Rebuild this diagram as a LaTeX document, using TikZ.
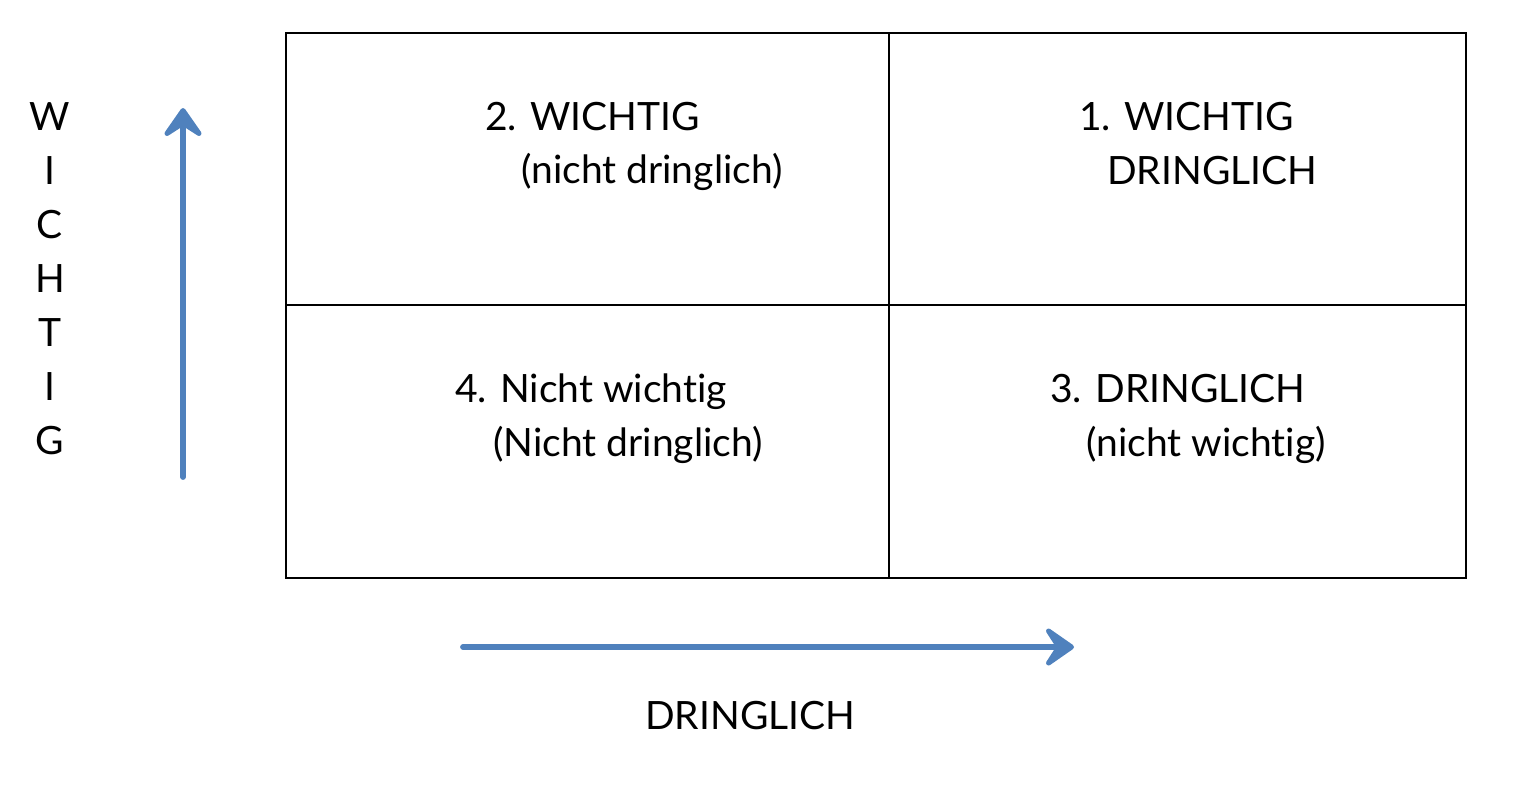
\documentclass[tikz,border=0pt]{standalone}
\usepackage{fontspec}
\setmainfont{Lato}[Ligatures=NoCommon]
\usetikzlibrary{arrows.meta}

\definecolor{axisblue}{RGB}{79,129,189}
\tikzset{every picture/.style={line width=0.75pt}}
\tikzset{
  axisarrow/.style={draw=axisblue, line width=2.9pt, line cap=round,
    -{Stealth[length=18pt,width=25pt,inset=8pt,round]}},
  celltext/.style={anchor=base west, inner sep=0.75pt, font=\fontsize{19.5}{24}\selectfont},
  axisletter/.style={anchor=base, inner sep=0.75pt, font=\fontsize{19.5}{24}\selectfont}
}

\begin{document}
\begin{tikzpicture}[x=0.5pt,y=0.5pt,yscale=-1]
\useasboundingbox (0,0) rectangle (1530,784);

%Grid [id:grid]
\draw (286,33) rectangle (1466,578);
%Straight Lines [id:divider_v]
\draw (889,33) -- (889,578);
%Straight Lines [id:divider_h]
\draw (286,305) -- (1466,305);

%Arrow coordinates
\coordinate (vbot) at (183,477);
\coordinate (vtop) at (183,108);
\coordinate (hleft) at (463,647);
\coordinate (hright) at (1074,647);
%Arrows
\draw [axisarrow] (vbot) -- (vtop);
\draw [axisarrow] (hleft) -- (hright);

% Text Node
\node (q2a) [celltext] at (483,130) {2. WICHTIG};
% Text Node
\node (q2b) [celltext] at (519,183) {(nicht dringlich)};
% Text Node
\node (q1a) [celltext] at (1077,130) {1. WICHTIG};
% Text Node
\node (q1b) [celltext] at (1105,184) {DRINGLICH};
% Text Node
\node (q4a) [celltext] at (453,402) {4. Nicht wichtig};
% Text Node
\node (q4b) [celltext] at (491,456) {(Nicht dringlich)};
% Text Node
\node (q3a) [celltext] at (1048,402) {3. DRINGLICH};
% Text Node
\node (q3b) [celltext] at (1084,456) {(nicht wichtig)};
% Text Node
\node (xlabel) [celltext] at (643,729) {DRINGLICH};

% Vertical label
\foreach \letter [count=\i from 0] in {W,I,C,H,T,I,G}
  \node (ylab\i) [axisletter] at (50,130+54*\i) {\letter};

\end{tikzpicture}
\end{document}
